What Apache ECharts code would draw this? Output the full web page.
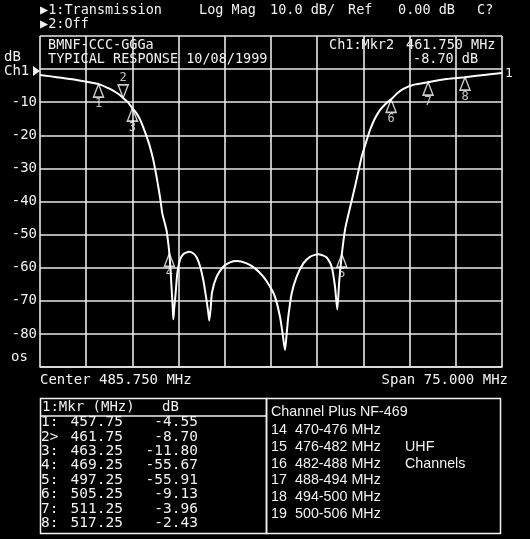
<!DOCTYPE html>
<html><head><meta charset="utf-8">
<script src="https://cdn.jsdelivr.net/npm/echarts@6/dist/echarts.min.js"></script>
<style>html,body{margin:0;padding:0;background:#000;}#c{width:530px;height:539px;}</style>
</head><body><div id="c"></div>
<script>
// ---- data ----
const traceFreq = [448.25,450.0,452.0,454.0,455.83,457.75,459.6,460.8,461.75,462.5,463.25,463.9,464.48,465.0,465.57,466.1,466.65,467.05,467.45,467.8,468.10,468.5,468.82,469.05,469.25,469.45,469.63,469.78,469.89,470.02,470.22,470.54,470.98,471.51,472.44,473.15,473.69,474.22,474.76,475.20,475.53,475.73,475.97,476.17,476.93,478.01,479.09,480.18,481.80,483.15,484.5,485.58,486.40,487.21,487.64,488.02,488.29,488.56,489.11,489.92,491.0,492.08,493.43,494.79,495.6,496.14,496.51,496.84,497.25,497.76,498.3,499.39,500.47,501.2,501.82,502.6,503.44,504.3,505.25,506.2,507.23,509.0,511.25,514.27,517.25,520.3,523.25];
const traceDb = [-1.8,-2.2,-2.7,-3.2,-3.8,-4.55,-6.0,-7.3,-8.7,-10.0,-11.8,-13.3,-15.2,-17.5,-20.4,-23.5,-27.5,-31.3,-35.5,-39.5,-43.6,-46.5,-49.0,-52.3,-55.67,-61.0,-66.7,-71.5,-75.6,-72.5,-68.8,-61.7,-57.6,-55.9,-55.2,-55.7,-56.9,-59.5,-63.7,-68.8,-73.0,-76.0,-72.0,-67.5,-62.7,-59.7,-58.4,-58.0,-58.7,-60.2,-62.7,-65.7,-68.8,-74.8,-80.0,-84.9,-80.0,-74.8,-67.7,-62.7,-58.7,-56.7,-55.9,-56.9,-59.7,-65.7,-72.6,-63.7,-55.91,-48.6,-44.0,-35.5,-26.5,-22.0,-18.4,-15.0,-12.4,-10.6,-9.13,-7.4,-6.0,-4.7,-3.96,-3.0,-2.43,-1.8,-1.2];

const markerNum = ['1','2','3','4','5','6','7','8'];
const markerTag = ['1:','2>','3:','4:','5:','6:','7:','8:'];
const markerFreq = [457.75,461.75,463.25,469.25,497.25,505.25,511.25,517.25];
const markerDb = [-4.55,-8.70,-11.80,-55.67,-55.91,-9.13,-3.96,-2.43];
const activeMarker = 1;

const yLabelTicks = [-10,-20,-30,-40,-50,-60,-70,-80];
const centerMHz = 485.75;
const spanMHz = 75;

const channelNums = ['14','15','16','17','18','19'];
const channelRanges = ['470-476 MHz','476-482 MHz','482-488 MHz','488-494 MHz','494-500 MHz','500-506 MHz'];

// ---- drawing ----
const W = '#f2f2f2';
const MONO = '"DejaVu Sans Mono", "Liberation Mono", monospace';
const SANS = 'Arial, "Liberation Sans", sans-serif';
const chart = echarts.init(document.getElementById('c'), null, {renderer:'canvas'});

function t(text, x, y, size, opts) {
  opts = opts || {};
  return {type:'text', x:x, y:y, z:50, silent:true,
    style:{text:text, fill:opts.fill||W, font:(size||13.5)+'px '+(opts.family||MONO),
      align:opts.align||'left', verticalAlign:'middle'}};
}

const g = [];
g.push(t('\u25B61:Transmission', 40, 10));
g.push(t('Log Mag', 199, 10));
g.push(t('10.0 dB/', 270, 10));
g.push(t('Ref', 348, 10));
g.push(t('0.00 dB', 398, 10));
g.push(t('C?', 477, 10));
g.push(t('\u25B62:Off', 40, 24));
g.push(t('BMNF-CCC-GGGa', 48, 45));
g.push(t('TYPICAL RESPONSE 10/08/1999', 48, 59));
g.push(t('Ch1:Mkr' + markerNum[activeMarker], 329, 45));
g.push(t(markerFreq[activeMarker].toFixed(3) + ' MHz', 406, 45));
g.push(t(markerDb[activeMarker].toFixed(2) + ' dB', 413, 59));
g.push(t('dB', 4, 57, 14));
g.push(t('Ch1', 4, 71, 14));
g.push({type:'polygon', z:50, shape:{points:[[33,66],[40,71],[33,76]]}, style:{fill:W}});
g.push(t('1', 505, 74, 13));
g.push(t('os', 11, 357, 14));
g.push(t('Center ' + centerMHz.toFixed(3) + ' MHz', 40, 380, 14));
g.push(t('Span ' + spanMHz.toFixed(3) + ' MHz', 508, 380, 14, {align:'right'}));

// left marker table
g.push({type:'rect', z:40, shape:{x:40.5,y:398.5,width:226,height:135}, style:{fill:'none', stroke:W, lineWidth:1.5}});
g.push({type:'line', z:40, shape:{x1:40,y1:416,x2:266,y2:416}, style:{stroke:W, lineWidth:1.5}});
g.push(t('1:Mkr (MHz)', 42, 407, 14));
g.push(t('dB', 162, 407, 14));
markerFreq.forEach(function(f, i){
  const y = 422.5 + 14.4 * i;
  g.push(t(markerTag[i], 41, y, 14.5));
  g.push(t(f.toFixed(2), 123, y, 14.5, {align:'right'}));
  g.push(t(markerDb[i].toFixed(2), 198, y, 14.5, {align:'right'}));
});

// right channel box
g.push({type:'rect', z:40, shape:{x:266.5,y:398.5,width:234,height:135}, style:{fill:'none', stroke:W, lineWidth:1.5}});
g.push(t('Channel Plus NF-469', 271, 412, 14.3, {family:SANS}));
channelNums.forEach(function(n, i){
  const y = 430 + 16.8 * i;
  g.push(t(n, 271, y, 14.3, {family:SANS}));
  g.push(t(channelRanges[i], 295, y, 14.3, {family:SANS}));
});
g.push(t('UHF', 405, 447, 14.3, {family:SANS}));
g.push(t('Channels', 405, 464, 14.3, {family:SANS}));

const upTri = 'path://M5,0 L10,13 L0,13 Z';
const downTri = 'path://M0,0 L10,0 L5,13 Z';

chart.setOption({
  backgroundColor:'#000',
  animation:false,
  grid:{left:40, top:36, width:462, height:331, containLabel:false},
  xAxis:[
    {type:'value', min:centerMHz - spanMHz/2, max:centerMHz + spanMHz/2,
      axisLine:{show:false}, axisTick:{show:false}, axisLabel:{show:false}, splitLine:{show:false}},
    {type:'value', min:0, max:10, interval:1, position:'bottom',
      axisLine:{show:true, lineStyle:{color:'#e8e8e8', width:1.6}}, axisTick:{show:false}, axisLabel:{show:false},
      splitLine:{show:true, lineStyle:{color:'#e8e8e8', width:1.6}}}
  ],
  yAxis:{type:'value', min:-90, max:10, interval:10,
    axisLine:{show:false}, axisTick:{show:false},
    axisLabel:{color:W, fontFamily:'DejaVu Sans Mono', fontSize:14, margin:3,
      formatter:function(v){ return yLabelTicks.indexOf(v) >= 0 ? String(v) : ''; }},
    splitLine:{show:true, lineStyle:{color:'#e8e8e8', width:1.6}}},
  series:[
    {type:'line', xAxisIndex:0, data:traceFreq.map(function(f,i){return [f, traceDb[i]];}),
      showSymbol:false, smooth:0.2, lineStyle:{color:'#ffffff', width:2}, z:5},
    {type:'scatter', xAxisIndex:0, z:10,
      data:markerFreq.map(function(f,i){
        const act = i === activeMarker;
        return {value:[f, markerDb[i]], name:markerNum[i],
          symbol: act ? downTri : upTri,
          symbolOffset: act ? [0,'-50%'] : [0,'50%'],
          label:{position: act ? 'top' : 'bottom'}};
      }),
      symbolSize:[10,13],
      itemStyle:{color:'rgba(0,0,0,0)', borderColor:'#ffffff', borderWidth:1.5},
      label:{show:true, formatter:function(p){return p.name;}, color:W, fontFamily:MONO, fontSize:12, distance:0}}
  ],
  graphic:g
});
</script></body></html>
